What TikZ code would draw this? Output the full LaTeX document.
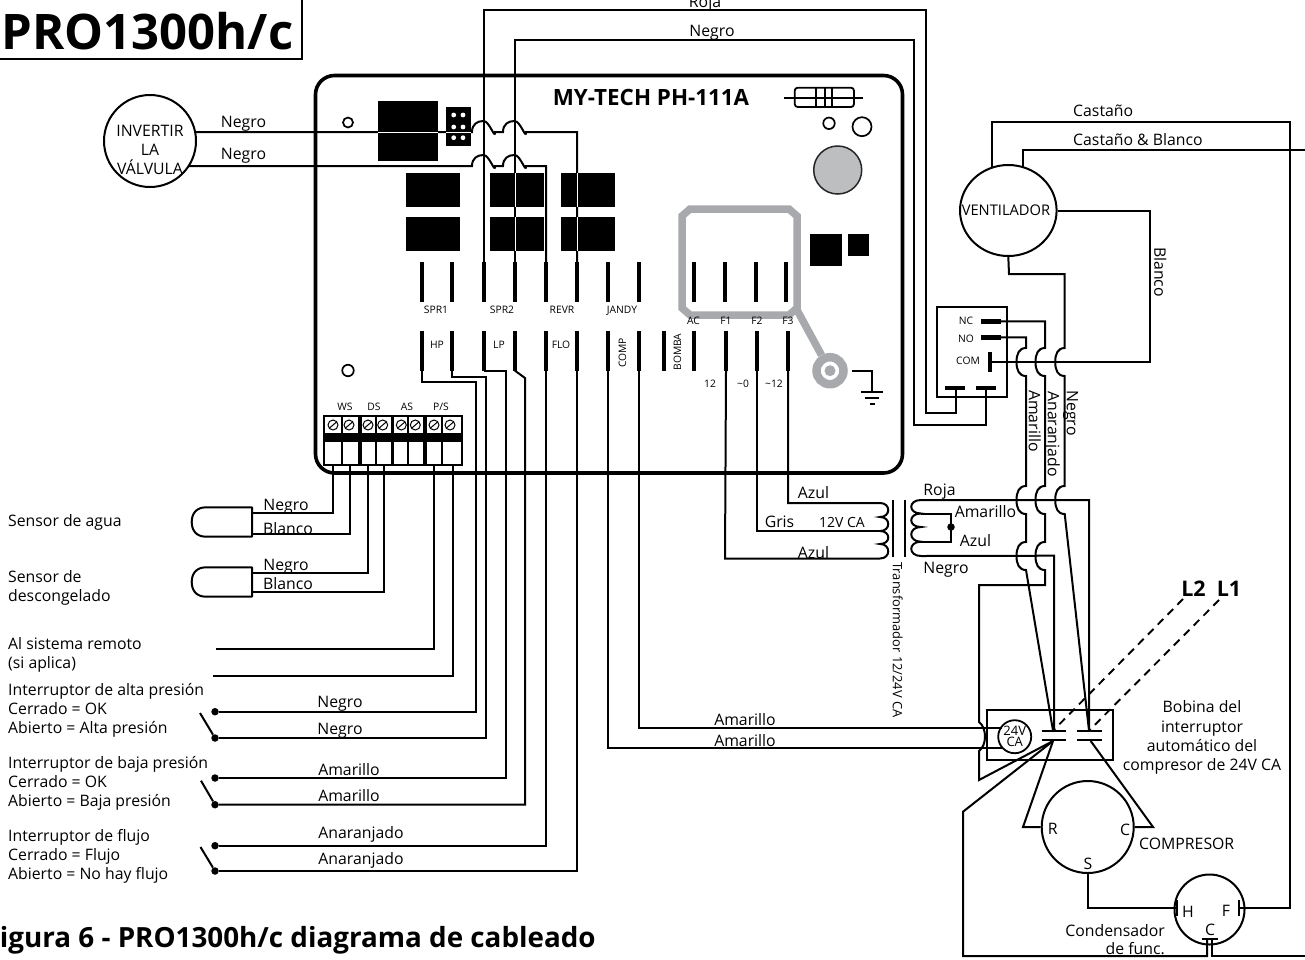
\documentclass[tikz,border=0pt]{standalone}
\usepackage{fontspec}
\setmainfont{Open Sans}
\usetikzlibrary{shapes.geometric,calc}
\definecolor{pcbgray}{HTML}{A7A9AC}
\definecolor{knobgray}{HTML}{BCBEC0}
\newcommand{\fsz}[1]{\fontsize{#1}{#1}\selectfont}
% crossing humps
\newcommand{\humpH}{.. controls +(0,-8) and +(-6,0) .. ++(11.5,-11) .. controls +(6,0) and +(0,8) .. ++(11.5,11)}
\newcommand{\humpV}{.. controls +(-7,0) and +(0,-8) .. ++(-9.5,14) .. controls +(0,8) and +(-7,0) .. ++(9.5,14)}
\newcommand{\humpR}{.. controls +(4,3) and +(0,-6) .. ++(6,14.5) .. controls +(0,6) and +(4,-3) .. ++(-6,14.5)}
\tikzset{
  wire/.style={line width=2pt,line join=miter},
  thinw/.style={line width=1.8pt},
  bar/.style={line width=4.2pt},
  hair/.style={white,line width=0.9pt},
  lab/.style={inner sep=0pt,font=\fsz{15.8},text height=14pt,text depth=1.5pt},
  slab/.style={inner sep=0pt,font=\fsz{10.3},text height=9.5pt,text depth=0.2pt},
  llab/.style={inner sep=0pt,anchor=west,align=left,font=\fontsize{15.8}{19}\selectfont},
  pcb/.style={pcbgray,line width=7.5pt},
  blk/.style={fill=black,draw=none},
  hole/.style={draw,circle,line width=1.7pt,inner sep=0pt,fill=white},
  dashw/.style={line width=1.9pt,dash pattern=on 8pt off 6pt},
  dotn/.style={circle,fill=black,inner sep=0pt,minimum size=7.5pt},
}
\begin{document}
\begin{tikzpicture}[x=1pt,y=-1pt]
\useasboundingbox (0,0) rectangle (1305,959);
\fill[white] (0,0) rectangle (1305,959);

% title
\node[draw,line width=2.5pt,inner sep=0pt,minimum width=307pt,minimum height=64pt,anchor=south east] (titlebox) at (303,60) {};
\node[inner sep=0pt,anchor=west,font=\fsz{49}\bfseries] (title) at (1.5,31) {PRO1300h/c};
\node[inner sep=0pt,anchor=west,font=\fsz{27.8}\bfseries] (caption) at (-15.5,940) {Figura 6 - PRO1300h/c diagrama de cableado};

% board outline
\draw[line width=3.6pt,rounded corners=19pt] (315.5,75.5) rectangle (902.5,473);
\node[inner sep=0pt,font=\fsz{22.4}\bfseries] (boardname) at (651,97) {MY-TECH PH-111A};

% black relays
\fill[blk] (378,101) rectangle (438,160.7);
\fill[blk] (446,107) rectangle (471,146);
\foreach \y in {115,127,137.7} \foreach \x in {453.7,463} \fill[white] (\x,\y) circle (2.4pt);
\foreach \x in {406,490,561} {
  \fill[blk] (\x,173) rectangle ++(54,33.7);
  \fill[blk] (\x,217) rectangle ++(54,33.7);
}
\fill[blk] (810,234) rectangle (842,266);
\fill[blk] (848,234) rectangle (869,256);

% holes, knob, fuse
\node[hole,minimum size=10pt] (h1) at (348,122.5) {};
\node[hole,minimum size=11.5pt] (h2) at (348,370.5) {};
\node[hole,minimum size=11.5pt] (h3) at (829,123.3) {};
\node[hole,minimum size=19pt] (h4) at (862,126.7) {};
\node[draw=black!85,fill=knobgray,circle,line width=1.5pt,inner sep=0pt,minimum size=48pt] (knob) at (837.7,170) {};
\draw[thinw,rounded corners=3pt] (794.7,87.7) rectangle (854,107);
\draw[thinw] (784,97.7) -- (863,97.7) (816,87.7) -- (816,107) (825,87.7) -- (825,107) (832,87.7) -- (832,107);

% grey ground trace
\draw[pcb] (690,209) -- (789,209) -- (797,216) -- (797,308) -- (789,315) -- (690,315) -- (682,308) -- (682,216) -- cycle;
\node[circle,draw=pcbgray,line width=8.5pt,minimum size=27pt,inner sep=0pt] (gring) at (830,370.7) {};
\fill[pcbgray] (830,370.7) circle (5.5pt);
\draw[pcb] (797,310) -- (gring);
\coordinate (gnd) at (872,392);
\draw[line width=1.7pt] (gring.east) ++(4,0) -- (872,370.7) -- (gnd);
\draw[line width=2.2pt] (861,392) -- (883,392) (865,398) -- (879,398) (870,403.7) -- (875,403.7);

% spade terminals
\foreach \x in {422,452,484,515,546,577,608,639,694,725,756,786} {
  \draw[bar] (\x,262) -- (\x,301.7);
}
\foreach \x in {422,452,484,515,546,577,608,639,664,694,726,757,788} {
  \draw[bar] (\x,331) -- (\x,370.7);
  \coordinate (lo\x) at (\x,370.7);
}
\coordinate (upA) at (484,262);
\coordinate (upB) at (515,262);
\coordinate (upC) at (546,262);
\coordinate (upD) at (577,262);

% terminal labels
\node[slab] (tSPR1) at (436,309) {SPR1};
\node[slab] (tSPR2) at (502,309) {SPR2};
\node[slab] (tREVR) at (562,309) {REVR};
\node[slab] (tJANDY) at (622,309) {JANDY};
\node[slab] (tAC) at (693.5,320) {AC};
\node[slab] (tF1) at (726,320) {F1};
\node[slab] (tF2) at (757,320) {F2};
\node[slab] (tF3) at (788,320) {F3};
\node[slab] (tHP) at (437,344) {HP};
\node[slab] (tLP) at (499,344) {LP};
\node[slab] (tFLO) at (561,344) {FLO};
\node[slab,rotate=90] (tCOMP) at (621.5,353) {COMP};
\node[slab,rotate=90] (tBOMBA) at (676.5,352) {BOMBA};
\node[slab] (t12) at (710,383) {12};
\node[slab] (t0) at (743,383) {\textasciitilde 0};
\node[slab] (t12b) at (774,383) {\textasciitilde 12};

% screw terminal block
\draw[thinw] (324,416) rectangle (462,465);
\fill[black] (324,432.7) rectangle (462,441.7);
\foreach \x in {341.7,376,408.3,441.7} \draw[thinw] (\x,416) -- (\x,465);
\foreach \x in {360,392.5,425} \draw[line width=3.6pt] (\x,416) -- (\x,465);
\foreach \x in {333,349,368,382.7,401.3,415.3,434,450} {
  \draw[line width=1pt] (\x,425) circle (5pt);
  \draw[line width=1pt] (\x-3.5,428) -- (\x+3.5,422);
}
\node[slab] (tWS) at (345,406) {WS};
\node[slab] (tDS) at (374,406) {DS};
\node[slab] (tAS) at (407,406) {AS};
\node[slab] (tPS) at (441,406) {P/S};
\foreach \n/\x in {a/333,b/350,c/368,d/384,e/434,f/452.6} \coordinate (blk\n) at (\x,465);

% reversing valve
\node[draw,circle,line width=2pt,inner sep=0pt,minimum size=92pt] (valve) at (150,141) {};
\node[inner sep=0pt,align=center,font=\fontsize{15.8}{19}\selectfont] (valvetext) at (150,150) {INVERTIR\\LA\\VÁLVULA};
\node[lab] (nA) at (243.5,121) {Negro};
\node[lab] (nB) at (243.5,153) {Negro};
\coordinate (valveA) at (195,132);
\coordinate (valveB) at (189,166);
\draw[wire] (valveA) -- (472,132) \humpH -- (503,132) \humpH -- (577,132) -- (upD);
\draw[wire] (valveB) -- (472,166) \humpH -- (503,166) \humpH -- (546,166) -- (upC);
\draw[hair] (378,132) -- (438,132) (446,132) -- (471,132);

% top wires
\draw[wire] (upA) -- (484,10) -- (925.7,10) -- (925.7,413) -- (955.7,413) -- (955.7,388);
\draw[wire] (upB) -- (515,40) -- (913.5,40) -- (913.5,425) -- (986,425) -- (986,388);
\draw[hair] (515,173) -- (515,206.7) (515,217) -- (515,250.7) (577,173) -- (577,206.7) (577,217) -- (577,250.7);
\node[lab] (nRoja) at (705,1) {Roja};
\node[lab] (nNegroT) at (712,30) {Negro};

% fan
\node[draw,ellipse,line width=2pt,inner sep=0pt,minimum width=96.6pt,minimum height=91pt] (fan) at (1008.3,210.5) {};
\node[inner sep=0pt,font=\fsz{14.7}] (fantext) at (1006,210.5) {VENTILADOR};
\coordinate (fanA) at (991.7,167);
\coordinate (fanB) at (1023,168);
\coordinate (right1) at (1305,150);
\coordinate (right2) at (1305,956);
\node[lab,anchor=west] (nCast) at (1073,110) {Castaño};
\node[lab,anchor=west] (nCastB) at (1073,139) {Castaño \& Blanco};
\node[lab,rotate=-90] (nBlancoF) at (1160.5,272) {Blanco};

% relay
\draw[line width=1.9pt] (936.7,307) rectangle (1007,397);
\node[slab] (rNC) at (966,320) {NC};
\node[slab] (rNO) at (966,338) {NO};
\node[slab] (rCOM) at (968,360) {COM};
\draw[line width=4.5pt] (981,321.3) -- (1001,321.3);
\coordinate (rcNC) at (1001,321.3);
\draw[line width=4.5pt] (981,337.3) -- (1001,337.3);
\coordinate (rcNO) at (1001,337.3);
\draw[bar] (990,352) -- (990,371.7);
\coordinate (rcCOM) at (990,362);
\draw[line width=4.5pt] (945,388) -- (965,388) (976,388) -- (996,388);

% fan wires
\draw[wire] (fan.east) -- (1150,210.5) -- (1150,362) -- (rcCOM);
\draw[wire] (fanA) -- (991.7,121.7) -- (1290,121.7) -- (1290,908) -- (1239,908);
\draw[wire] (fanB) -- (1023,150) -- (right1);

% contactor
\draw[line width=1.9pt] (987,710) rectangle (1112.7,760);
\node[draw,fill=white,circle,line width=1.8pt,inner sep=0pt,minimum size=33pt,align=center,font=\fontsize{13}{11}\selectfont] (coil) at (1014.7,736.7) {24V\\CA};
\draw[line width=2.2pt] (1041.7,730.7) -- (1066,730.7) (1041.7,740) -- (1066,740) (1077,730.7) -- (1101.7,730.7) (1077,740) -- (1101.7,740);
\coordinate (cTL) at (1053,730.7);
\coordinate (cTR) at (1089,730.7);
\coordinate (cBL) at (1053,741);
\coordinate (cBR) at (1090.7,741);
\node[inner sep=0pt,align=center,font=\fontsize{15.8}{19.2}\selectfont] (bob) at (1202,737.5) {Bobina del\\interruptor\\automático del\\compresor de 24V CA};

% relay wires with crossings
\draw[wire] (rcNO) -- (1026,337.3) -- (1026,348) \humpV -- (1026,486) \humpV -- (1026,542) \humpV -- (cTL);
\draw[wire] (rcNC) -- (1045,321.3) -- (1045,348) \humpV -- (1045,486) \humpV -- (1045,542) \humpV -- (1045,585) -- (979,585) -- (979,722) \humpR -- (979,780) -- (cBL);
\draw[wire] (fan.south) -- (1009,274) -- (1064.7,274) -- (1064.7,348) \humpV -- (1064.7,486) \humpV -- (cTR);
\node[lab,rotate=-90] (nAm) at (1035,421) {Amarillo};
\node[lab,rotate=-90] (nAn) at (1054,434) {Anaranjado};
\node[lab,rotate=-90] (nNe) at (1073,413) {Negro};

% transformer
\draw[line width=1.9pt] (893,500) -- (893,557) (905,500) -- (905,557);
\draw[wire] (lo788) -- (788,503) -- (880,503) .. controls +(11,0) and +(11,0) .. ++(0,14) .. controls +(11,0) and +(11,0) .. ++(0,14) .. controls +(11,0) and +(11,0) .. ++(0,13) .. controls +(11,0) and +(11,0) .. ++(0,14.5) -- (725,558.5) -- (lo726);
\draw[wire] (lo757) -- (757,531) -- (880,531);
\draw[wire] (1089,730.7) -- (1089,500) -- (921,500) .. controls +(-13,0) and +(-13,0) .. ++(0,13.5) .. controls +(-13,0) and +(-13,0) .. ++(0,13.5) .. controls +(-13,0) and +(-13,0) .. ++(0,14.7) .. controls +(-13,0) and +(-13,0) .. ++(0,14.3) -- (1054,555.7) -- (1054,730.7);
\draw[wire] (921,513.5) -- (951,513.5) -- (951,541.7) -- (921,541.7);
\node[dotn] (tap) at (951,527) {};
\node[lab] (nAzulA) at (813.5,492) {Azul};
\node[lab] (nGris) at (779.5,521) {Gris};
\node[lab,font=\fsz{14}] (n12V) at (842,521) {12V CA};
\node[lab] (nAzulB) at (813.5,552) {Azul};
\node[lab] (nRojaT) at (939.5,489) {Roja};
\node[lab] (nAmT) at (985.5,511) {Amarillo};
\node[lab] (nAzT) at (975.5,540) {Azul};
\node[lab] (nNeT) at (946,567) {Negro};
\node[lab,rotate=-90,font=\fsz{12.9}] (nTrans) at (899,640) {Transformador 12/24V CA};

% COMP wires
\draw[wire] (lo639) -- (639,728) -- (coil.north west |- 0,728);
\draw[wire] (lo608) -- (608,747.7) -- (coil.south west |- 0,747.7);
\node[lab] (nAm1) at (745,719) {Amarillo};
\node[lab] (nAm2) at (745,740) {Amarillo};

% L1 L2
\node[inner sep=0pt,font=\fsz{21.5}\bfseries] (L2) at (1193.5,589) {L2};
\node[inner sep=0pt,font=\fsz{21.5}\bfseries] (L1) at (1229,589) {L1};
\coordinate (dL2) at (1183,599);
\coordinate (dL1) at (1219,600);
\draw[dashw] (dL2) -- (cTL);
\draw[dashw] (dL1) -- (cTR);

% compressor
\node[draw,circle,line width=2pt,inner sep=0pt,minimum size=92pt] (comp) at (1087.7,827) {};
\node[lab] (cR) at (1052.7,828) {R};
\node[lab] (cC) at (1125,829) {C};
\node[lab] (cS) at (1088,863) {S};
\node[lab,anchor=west] (cName) at (1139,843) {COMPRESOR};
\draw[wire] (cBL) -- (1023,827) -- (comp.west);
\draw[wire] (cBR) -- (1153,827) -- (comp.east);

% run capacitor
\node[draw,circle,line width=2pt,inner sep=0pt,minimum size=70pt] (cap) at (1209.5,909.5) {};
\node[lab] (capH) at (1188,911) {H};
\node[lab] (capF) at (1226,910) {F};
\node[lab] (capC) at (1210,929) {C};
\node[inner sep=0pt,anchor=east,align=right,font=\fontsize{15.8}{18}\selectfont] (capN) at (1165,940) {Condensador\\de func.};
\draw[wire] (comp.south) -- (1087.7,908) -- (1176.7,908);
\draw[line width=2.2pt] (1176.7,900) -- (1176.7,916) (1239,900) -- (1239,916);
\draw[line width=2.4pt] (1201.7,939) -- (1218,939);
\draw[wire] (1207,939) -- (1207,956) -- (963,956) -- (963,811.7) -- (cBL);
\draw[wire] (1212,939) -- (1212,956) -- (right2);

% sensors
\draw[wire,line join=round] (252,507.3) -- (206,507.3) .. controls (196,507.3) and (191.7,514) .. (191.7,522) .. controls (191.7,530) and (196,536.7) .. (206,536.7) -- (252,536.7) -- cycle;
\draw[wire,line join=round] (252,567.3) -- (206,567.3) .. controls (196,567.3) and (191.7,574) .. (191.7,582) .. controls (191.7,590) and (196,596.7) .. (206,596.7) -- (252,596.7) -- cycle;
\coordinate (s1a) at (252,513.3);
\coordinate (s1b) at (252,534);
\coordinate (s2a) at (252,572.7);
\coordinate (s2b) at (252,592);
\draw[wire] (s1a) -- (333,513.3) -- (blka);
\draw[wire] (s1b) -- (350,534) -- (blkb);
\draw[wire] (s2a) -- (368,572.7) -- (blkc);
\draw[wire] (s2b) -- (384,592) -- (blkd);
\coordinate (rem1) at (216,649);
\coordinate (rem2) at (213,675.7);
\draw[wire] (rem1) -- (434,649) -- (blke);
\draw[wire] (rem2) -- (452.6,675.7) -- (blkf);
\node[lab] (sN1) at (286,504) {Negro};
\node[lab] (sB1) at (288,528) {Blanco};
\node[lab] (sN2) at (286,564) {Negro};
\node[lab] (sB2) at (288,583) {Blanco};

% switches
\foreach \n/\y in {a/711.7,b/738,c/778,d/804.7,e/845.7,f/871} {
  \node[dotn] (sw\n) at (215,\y) {};
}
\draw[wire] (lo422) -- (422,382) -- (475.7,382) -- (475.7,711.7) -- (swa);
\draw[wire] (lo452) -- (452,377) -- (486,377) -- (486,738) -- (swb);
\draw[wire] (lo484) -- (506,370.7) -- (506,778) -- (swc);
\draw[wire] (lo515) -- (525,378) -- (525,804.7) -- (swd);
\draw[wire] (lo546) -- (546,845.7) -- (swe);
\draw[wire] (lo577) -- (577,871) -- (swf);
\draw[wire] (200,713) -- (swb);
\draw[wire] (201,780.7) -- (swd);
\draw[wire] (200.5,847) -- (swf);
\node[lab] (wN1) at (340,701) {Negro};
\node[lab] (wN2) at (340,728) {Negro};
\node[lab] (wA1) at (349,769) {Amarillo};
\node[lab] (wA2) at (349,795) {Amarillo};
\node[lab] (wO1) at (361,832) {Anaranjado};
\node[lab] (wO2) at (361,858) {Anaranjado};

% left texts
\node[llab] (lt1) at (8,522) {Sensor de agua};
\node[llab] (lt2) at (8,588) {Sensor de\\descongelado};
\node[llab] (lt3) at (8,655) {Al sistema remoto\\(si aplica)};
\node[llab] (lt4) at (8,710.5) {Interruptor de alta presión\\Cerrado = OK\\Abierto = Alta presión};
\node[llab] (lt5) at (8,783.5) {Interruptor de baja presión\\Cerrado = OK\\Abierto = Baja presión};
\node[llab] (lt6) at (8,856.5) {Interruptor de flujo\\Cerrado = Flujo\\Abierto = No hay flujo};
\end{tikzpicture}
\end{document}
